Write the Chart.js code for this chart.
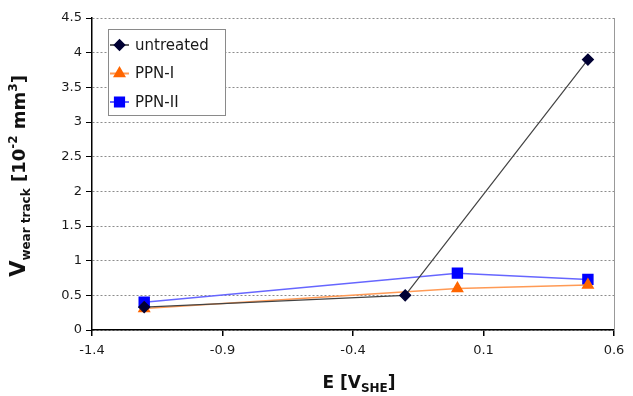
<!DOCTYPE html>
<html>
<head>
<meta charset="utf-8">
<script src="https://cdn.jsdelivr.net/npm/chart.js@4/dist/chart.umd.min.js"></script>
<style>
  html, body { margin: 0; padding: 0; background: #fff; }
  canvas { display: block; }
</style>
</head>
<body>
<canvas id="wearChart" width="633" height="396"></canvas>
<script>
// values
const seriesNames = ['untreated', 'PPN-I', 'PPN-II'];
const untreatedE = [-1.2, -0.2, 0.5];
const untreatedV = [0.33, 0.5, 3.9];
const ppn1E = [-1.2, 0.0, 0.5];
const ppn1V = [0.31, 0.6, 0.65];
const ppn2E = [-1.2, 0.0, 0.5];
const ppn2V = [0.4, 0.82, 0.73];
const xTicks = [-1.4, -0.9, -0.4, 0.1, 0.6];

const FONT = '"DejaVu Sans", Verdana, sans-serif';

function toPoints(xs, ys) {
    return xs.map((x, i) => ({ x: x, y: ys[i] }));
}

// legend box drawn inside the plot area
const boxLegend = {
    id: 'boxLegend',
    afterDatasetsDraw(chart) {
        const ctx = chart.ctx;
        const area = chart.chartArea;
        const x0 = area.left + 16, y0 = area.top + 11;
        const w = 117, h = 86;
        ctx.save();
        ctx.fillStyle = '#fff';
        ctx.fillRect(x0, y0, w, h);
        ctx.strokeStyle = '#8a8a8a';
        ctx.lineWidth = 1;
        ctx.strokeRect(x0 + 0.5, y0 + 0.5, w, h);
        chart.data.datasets.forEach((ds, i) => {
            const cy = y0 + 16 + i * 28.5;
            ctx.strokeStyle = ds.borderColor;
            ctx.lineWidth = ds.borderWidth + 0.5;
            ctx.beginPath();
            ctx.moveTo(x0 + 2, cy);
            ctx.lineTo(x0 + 21, cy);
            ctx.stroke();
            ctx.fillStyle = ds.pointBackgroundColor;
            ctx.strokeStyle = ds.pointBorderColor;
            Chart.helpers.drawPoint(ctx, {
                pointStyle: ds.pointStyle,
                radius: ds.pointRadius - 0.5,
                borderWidth: 1,
                rotation: 0
            }, x0 + 11.5, cy);
            ctx.fillStyle = '#1a1a1a';
            ctx.font = '15px ' + FONT;
            ctx.textBaseline = 'middle';
            ctx.textAlign = 'left';
            ctx.fillText(ds.label, x0 + 27, cy + 1);
        });
        ctx.restore();
    }
};

// right frame line and the axis titles with sub/superscripts
const frameAndTitles = {
    id: 'frameAndTitles',
    afterDraw(chart) {
        const ctx = chart.ctx;
        const area = chart.chartArea;
        ctx.save();
        ctx.strokeStyle = '#999';
        ctx.lineWidth = 1;
        ctx.beginPath();
        ctx.moveTo(area.right + 0.5, area.top);
        ctx.lineTo(area.right + 0.5, area.bottom);
        ctx.stroke();

        ctx.fillStyle = '#111';
        ctx.textBaseline = 'alphabetic';
        ctx.textAlign = 'left';

        function runs(parts) {
            let total = 0;
            parts.forEach(p => { ctx.font = 'bold ' + p.size + 'px ' + FONT; p.w = ctx.measureText(p.t).width; total += p.w; });
            return total;
        }
        function drawRuns(parts, startX, baseY) {
            let x = startX;
            parts.forEach(p => {
                ctx.font = 'bold ' + p.size + 'px ' + FONT;
                ctx.fillText(p.t, x, baseY + (p.dy || 0));
                x += p.w;
            });
        }

        // x title
        const xParts = [
            { t: 'E [V', size: 17 },
            { t: 'SHE', size: 12, dy: 4 },
            { t: ']', size: 17 }
        ];
        const xw = runs(xParts);
        drawRuns(xParts, 359 - xw / 2, 388);

        // y title
        const yParts = [
            { t: 'V', size: 21 },
            { t: 'wear track', size: 12, dy: 5 },
            { t: ' [10', size: 18 },
            { t: '-2', size: 12, dy: -8 },
            { t: ' mm', size: 18 },
            { t: '3', size: 12, dy: -8 },
            { t: ']', size: 18 }
        ];
        const yw = runs(yParts);
        ctx.translate(25, 176);
        ctx.rotate(-Math.PI / 2);
        drawRuns(yParts, -yw / 2, 0);
        ctx.restore();
    }
};

const ctx = document.getElementById('wearChart').getContext('2d');
const wearChart = new Chart(ctx, {
    type: 'line',
    data: {
        datasets: [{
            label: seriesNames[0],
            data: toPoints(untreatedE, untreatedV),
            borderColor: '#444444',
            borderWidth: 1.2,
            pointStyle: 'rectRot',
            pointRadius: 5.5,
            pointBackgroundColor: '#000033',
            pointBorderColor: '#000033',
            order: 1
        }, {
            label: seriesNames[1],
            data: toPoints(ppn1E, ppn1V),
            borderColor: '#ff9a55',
            borderWidth: 1.5,
            pointStyle: 'triangle',
            pointRadius: 6,
            pointBackgroundColor: '#ff6600',
            pointBorderColor: '#ff6600',
            order: 2
        }, {
            label: seriesNames[2],
            data: toPoints(ppn2E, ppn2V),
            borderColor: '#6666ff',
            borderWidth: 1.5,
            pointStyle: 'rect',
            pointRadius: 7,
            pointBackgroundColor: '#0000ff',
            pointBorderColor: '#0000ff',
            order: 3
        }]
    },
    options: {
        responsive: false,
        animation: false,
        layout: { padding: { left: 20, right: 19, top: 18, bottom: 0 } },
        plugins: {
            legend: { display: false },
            tooltip: { enabled: false }
        },
        scales: {
            x: {
                type: 'linear',
                min: -1.4,
                max: 0.6,
                afterBuildTicks: s => { s.ticks = xTicks.map(v => ({ value: v })); },
                afterFit: s => { s.height = 66; },
                grid: { drawOnChartArea: false, tickLength: 6, tickColor: '#000', lineWidth: 1.5 },
                border: { color: '#000', width: 1.5 },
                ticks: {
                    color: '#1a1a1a',
                    font: { family: FONT, size: 13 },
                    padding: 7,
                    maxRotation: 0,
                    callback: v => v.toFixed(1)
                }
            },
            y: {
                min: 0,
                max: 4.5,
                afterFit: s => { s.width = 72; },
                grid: { color: '#8c8c8c', tickLength: 6, tickColor: '#000', tickBorderDash: [] },
                border: { color: '#000', width: 1.5, dash: [2, 2] },
                ticks: {
                    stepSize: 0.5,
                    color: '#1a1a1a',
                    font: { family: FONT, size: 13 },
                    padding: 4,
                    callback: v => String(+v.toFixed(1))
                }
            }
        }
    },
    plugins: [boxLegend, frameAndTitles]
});
</script>
</body>
</html>
